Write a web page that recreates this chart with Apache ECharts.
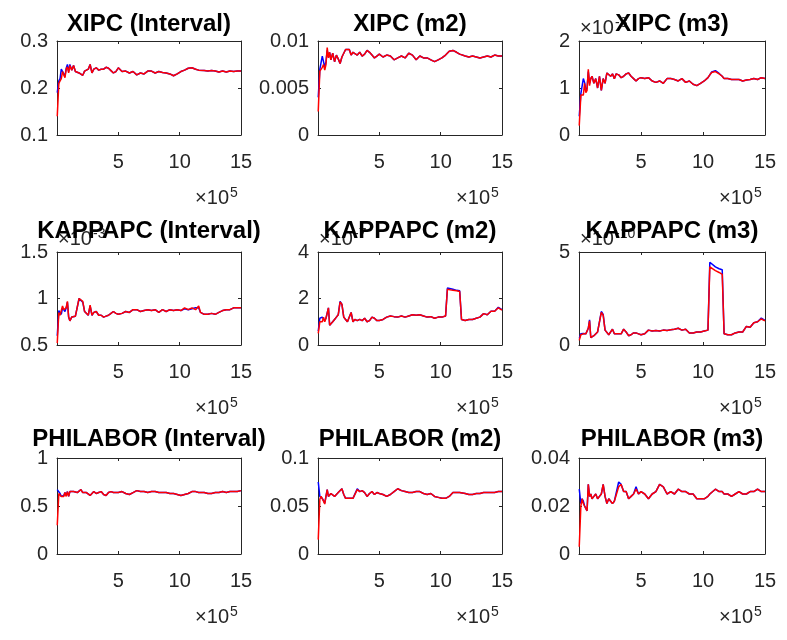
<!DOCTYPE html>
<html><head><meta charset="utf-8">
<script src="https://cdn.jsdelivr.net/npm/echarts@6/dist/echarts.min.js"></script>
<style>html,body{margin:0;padding:0;background:#fff}#c{width:787px;height:640px}</style>
</head><body><div id="c"></div>
<script>
// x positions (in units of 1e5)
const xs = [0.02,0.15,0.25,0.35,0.45,0.55,0.65,0.75,0.85,0.95,1.05,1.2,1.35,1.5,1.65,1.8,1.95,2.1,2.25,2.4,2.55,2.7,2.85,3.0,3.2,3.4,3.6,3.8,4.0,4.2,4.4,4.6,4.8,5.0,5.3,5.6,5.9,6.2,6.5,6.8,7.1,7.4,7.7,8.0,8.3,8.6,8.9,9.2,9.5,9.8,10.1,10.4,10.55,10.7,11.0,11.3,11.55,11.7,12.0,12.3,12.6,12.9,13.2,13.5,13.8,14.1,14.4,14.7,15.0];

const titles = ['XIPC (Interval)','XIPC (m2)','XIPC (m3)','KAPPAPC (Interval)','KAPPAPC (m2)','KAPPAPC (m3)','PHILABOR (Interval)','PHILABOR (m2)','PHILABOR (m3)'];
const yMin = [0.1,0,0,0.5,0,0,0,0,0];
const yMax = [0.3,0.01,2,1.5,4,5,1,0.1,0.04];
const yStep = [0.1,0.005,1,0.5,2,5,0.5,0.05,0.02];
const yTickLabels = [['0.1','0.2','0.3'],['0','0.005','0.01'],['0','1','2'],['0.5','1','1.5'],['0','2','4'],['0','5'],['0','0.5','1'],['0','0.05','0.1'],['0','0.02','0.04']];
const xTickLabels = ['','5','10','15'];
const xExpBase = '\u00d710', xExpPow = '5';
const yExpPow = [null,null,'-3','-3','-7','-10',null,null,null];

const xipcIntRed = [0.14,0.21,0.215,0.22,0.235,0.228,0.222,0.24,0.245,0.232, 0.248,0.238,0.248,0.235,0.237,0.232,0.235,0.227,0.236,0.232, 0.24,0.25,0.232,0.24,0.243,0.238,0.24,0.24,0.244,0.242, 0.237,0.232,0.235,0.243,0.235,0.236,0.232,0.235,0.228,0.232, 0.23,0.236,0.236,0.232,0.235,0.233,0.232,0.23,0.226,0.23, 0.235,0.238,0.24,0.242,0.243,0.24,0.238,0.238,0.237,0.236, 0.237,0.236,0.234,0.236,0.234,0.236,0.235,0.236,0.236];
const xipcIntBlue = [0.19,0.215,0.22,0.24,0.238,0.23,0.225,0.242,0.25,0.235, 0.25,0.238,0.248,0.235,0.237,0.232,0.235,0.227,0.236,0.232, 0.24,0.25,0.232,0.24,0.243,0.238,0.24,0.24,0.244,0.242, 0.237,0.232,0.235,0.243,0.235,0.236,0.232,0.235,0.228,0.232, 0.23,0.236,0.236,0.232,0.235,0.233,0.232,0.23,0.226,0.23, 0.235,0.238,0.24,0.242,0.243,0.24,0.238,0.238,0.237,0.236, 0.237,0.236,0.234,0.236,0.234,0.236,0.235,0.236,0.236];

const xipcM2Red = [0.0025,0.0068,0.007,0.0072,0.0075,0.0069,0.0075,0.0093,0.0082,0.0088, 0.008,0.0087,0.0078,0.0085,0.0081,0.0076,0.0083,0.0081,0.0091,0.009, 0.0091,0.0085,0.0088,0.0087,0.0085,0.0088,0.0084,0.0086,0.009,0.0088, 0.0085,0.0082,0.0084,0.0086,0.0083,0.0085,0.0084,0.008,0.0082,0.0084, 0.0082,0.0087,0.0085,0.008,0.0084,0.0082,0.0082,0.008,0.0078,0.008, 0.0082,0.0085,0.0087,0.0089,0.009,0.0088,0.0086,0.0085,0.0084,0.0083, 0.0084,0.0083,0.0082,0.0083,0.0084,0.0083,0.0085,0.0084,0.0084];
const xipcM2Blue = [0.004,0.007,0.0071,0.0084,0.0078,0.0072,0.0078,0.009,0.0083,0.0088, 0.008,0.0087,0.0078,0.0085,0.0081,0.0076,0.0083,0.0081,0.0091,0.009, 0.0091,0.0085,0.0088,0.0087,0.0085,0.0088,0.0084,0.0086,0.009,0.0088, 0.0085,0.0082,0.0084,0.0086,0.0083,0.0085,0.0084,0.008,0.0082,0.0084, 0.0082,0.0087,0.0085,0.008,0.0084,0.0082,0.0082,0.008,0.0078,0.008, 0.0082,0.0085,0.0087,0.0089,0.009,0.0088,0.0086,0.0085,0.0084,0.0083, 0.0084,0.0083,0.0082,0.0083,0.0084,0.0083,0.0085,0.0084,0.0084];

const xipcM3Red = [0.2,0.85,0.85,0.85,1.1,0.9,0.95,1.4,1.05,1.2, 1.25,1.1,1.2,1.0,1.25,0.95,1.2,1.1,1.32,1.3, 1.25,1.3,1.2,1.3,1.28,1.22,1.25,1.3,1.32,1.25, 1.2,1.15,1.2,1.22,1.2,1.22,1.15,1.12,1.15,1.1, 1.2,1.2,1.18,1.15,1.2,1.12,1.15,1.08,1.05,1.1, 1.15,1.22,1.28,1.33,1.35,1.3,1.25,1.2,1.2,1.18, 1.18,1.18,1.15,1.17,1.18,1.2,1.18,1.22,1.2];
const xipcM3Blue = [0.4,0.88,0.9,1.2,1.12,0.95,1.0,1.35,1.1,1.2, 1.25,1.1,1.2,1.0,1.25,0.95,1.2,1.1,1.32,1.3, 1.25,1.3,1.2,1.3,1.28,1.22,1.25,1.3,1.32,1.25, 1.2,1.15,1.2,1.22,1.2,1.22,1.15,1.12,1.15,1.1, 1.2,1.2,1.18,1.15,1.2,1.12,1.15,1.08,1.05,1.1, 1.15,1.22,1.28,1.34,1.37,1.31,1.25,1.2,1.2,1.18, 1.18,1.18,1.15,1.17,1.18,1.2,1.18,1.22,1.2];

const kapIntRed = [0.52,0.85,0.82,0.8,0.92,0.88,0.86,0.9,0.97,0.8, 0.76,0.8,0.8,0.81,0.8,1.0,0.99,0.97,0.86,0.84, 0.82,0.93,0.82,0.85,0.86,0.82,0.82,0.8,0.81,0.82, 0.84,0.86,0.84,0.83,0.84,0.86,0.85,0.88,0.88,0.86, 0.87,0.88,0.87,0.88,0.85,0.88,0.86,0.88,0.87,0.88, 0.87,0.9,0.89,0.88,0.9,0.88,0.92,0.85,0.83,0.83, 0.84,0.83,0.85,0.87,0.88,0.88,0.9,0.9,0.9];
const kapIntBlue = [0.6,0.87,0.86,0.83,0.9,0.88,0.86,0.9,0.96,0.8, 0.76,0.8,0.8,0.81,0.8,1.0,0.99,0.96,0.86,0.84, 0.82,0.92,0.82,0.85,0.86,0.82,0.82,0.8,0.81,0.82, 0.84,0.86,0.84,0.83,0.84,0.86,0.85,0.88,0.88,0.86, 0.87,0.88,0.87,0.88,0.85,0.88,0.86,0.88,0.87,0.88, 0.87,0.89,0.88,0.88,0.89,0.9,0.9,0.85,0.83,0.83, 0.84,0.83,0.85,0.87,0.88,0.88,0.9,0.9,0.9];

const kapM2Red = [0.5,1.0,1.05,1.0,1.2,1.0,1.15,1.1,1.6,0.85, 0.9,1.0,1.1,1.2,1.3,1.85,1.75,1.2,1.1,1.0, 1.0,1.4,1.0,1.1,1.05,1.1,1.05,1.15,1.0,1.05, 1.2,1.15,1.05,1.05,1.1,1.2,1.25,1.22,1.2,1.25, 1.2,1.25,1.3,1.28,1.3,1.25,1.2,1.22,1.15,1.2, 1.2,1.25,2.4,2.45,2.35,2.33,2.3,1.1,1.05,1.1, 1.1,1.15,1.2,1.35,1.3,1.45,1.45,1.6,1.5];
const kapM2Blue = [0.6,1.15,1.1,1.2,1.15,1.05,1.15,1.1,1.6,0.85, 0.9,1.0,1.1,1.2,1.3,1.88,1.75,1.2,1.1,1.0, 1.0,1.4,1.0,1.1,1.05,1.1,1.05,1.15,1.0,1.05, 1.2,1.15,1.05,1.05,1.1,1.2,1.25,1.22,1.2,1.25, 1.2,1.25,1.3,1.28,1.3,1.25,1.2,1.22,1.15,1.2, 1.2,1.25,2.45,2.45,2.4,2.35,2.33,1.1,1.05,1.1, 1.1,1.15,1.2,1.35,1.3,1.45,1.45,1.62,1.52];

const kapM3Red = [0.25,0.55,0.5,0.6,0.55,0.6,0.6,0.9,1.3,0.4, 0.45,0.5,0.6,0.7,0.8,1.75,1.6,0.8,0.7,0.55, 0.6,0.85,0.6,0.55,0.6,0.6,0.85,0.7,0.5,0.55, 0.65,0.65,0.6,0.55,0.6,0.8,0.75,0.78,0.75,0.8, 0.78,0.82,0.85,0.9,0.8,0.85,0.65,0.65,0.7,0.7, 0.75,0.8,4.2,4.1,4.0,3.9,3.8,0.6,0.55,0.55, 0.65,0.7,0.7,1.0,0.95,1.2,1.25,1.4,1.3];
const kapM3Blue = [0.35,0.6,0.52,0.62,0.55,0.6,0.6,0.9,1.35,0.4, 0.45,0.5,0.6,0.7,0.8,1.8,1.65,0.8,0.7,0.55, 0.6,0.85,0.6,0.55,0.6,0.6,0.85,0.7,0.5,0.55, 0.65,0.65,0.6,0.55,0.6,0.8,0.75,0.78,0.75,0.8, 0.78,0.82,0.85,0.9,0.8,0.85,0.65,0.65,0.7,0.7, 0.75,0.8,4.45,4.35,4.2,4.1,4.05,0.6,0.55,0.55, 0.65,0.7,0.7,1.0,0.95,1.2,1.25,1.45,1.32];

const philIntRed = [0.3,0.63,0.62,0.6,0.58,0.6,0.64,0.6,0.65,0.6, 0.65,0.63,0.65,0.65,0.64,0.66,0.67,0.64,0.62,0.64, 0.63,0.61,0.63,0.65,0.63,0.64,0.65,0.62,0.61,0.64, 0.65,0.64,0.64,0.64,0.65,0.63,0.62,0.64,0.66,0.65, 0.65,0.64,0.65,0.65,0.64,0.64,0.64,0.63,0.63,0.62, 0.61,0.62,0.63,0.63,0.65,0.65,0.64,0.64,0.64,0.63, 0.63,0.64,0.64,0.65,0.64,0.65,0.65,0.65,0.66];
const philIntBlue = [0.67,0.66,0.63,0.6,0.59,0.61,0.64,0.61,0.65,0.6, 0.65,0.63,0.65,0.65,0.64,0.66,0.67,0.64,0.62,0.64, 0.63,0.61,0.63,0.65,0.63,0.64,0.65,0.62,0.61,0.64, 0.65,0.64,0.64,0.64,0.65,0.63,0.62,0.64,0.66,0.65, 0.65,0.64,0.65,0.65,0.64,0.64,0.64,0.63,0.63,0.62, 0.61,0.62,0.63,0.63,0.65,0.65,0.64,0.64,0.64,0.63, 0.63,0.64,0.64,0.65,0.64,0.65,0.65,0.65,0.66];

const philM2Red = [0.015,0.057,0.06,0.058,0.055,0.052,0.06,0.067,0.06,0.062, 0.063,0.061,0.06,0.062,0.064,0.066,0.068,0.062,0.058,0.06, 0.058,0.059,0.058,0.06,0.067,0.065,0.066,0.064,0.06,0.063, 0.065,0.062,0.064,0.063,0.062,0.06,0.062,0.065,0.068,0.066, 0.065,0.064,0.064,0.065,0.065,0.063,0.062,0.063,0.06,0.059, 0.058,0.058,0.06,0.06,0.064,0.064,0.064,0.063,0.063,0.062, 0.062,0.063,0.063,0.064,0.064,0.064,0.064,0.065,0.065];
const philM2Blue = [0.075,0.06,0.059,0.058,0.056,0.053,0.06,0.067,0.06,0.062, 0.063,0.061,0.06,0.062,0.064,0.066,0.068,0.062,0.058,0.06, 0.058,0.059,0.058,0.06,0.068,0.065,0.066,0.064,0.06,0.063, 0.065,0.062,0.064,0.063,0.062,0.06,0.062,0.065,0.068,0.066, 0.065,0.064,0.064,0.065,0.065,0.063,0.062,0.063,0.06,0.059, 0.058,0.058,0.06,0.06,0.064,0.064,0.064,0.063,0.063,0.062, 0.062,0.063,0.063,0.064,0.064,0.064,0.064,0.065,0.065];

const philM3Red = [0.003,0.02,0.023,0.021,0.02,0.019,0.018,0.029,0.024,0.025, 0.023,0.024,0.025,0.023,0.024,0.025,0.029,0.024,0.021,0.023, 0.022,0.021,0.022,0.022,0.028,0.029,0.026,0.026,0.023,0.024, 0.025,0.027,0.025,0.026,0.025,0.023,0.025,0.026,0.029,0.028, 0.025,0.026,0.025,0.027,0.026,0.026,0.025,0.025,0.023,0.023, 0.023,0.024,0.025,0.025,0.027,0.026,0.026,0.025,0.025,0.024, 0.025,0.026,0.025,0.025,0.026,0.026,0.027,0.026,0.026];
const philM3Blue = [0.027,0.021,0.023,0.022,0.02,0.019,0.018,0.029,0.024,0.025, 0.023,0.024,0.025,0.023,0.024,0.025,0.029,0.024,0.021,0.023, 0.022,0.021,0.022,0.022,0.03,0.029,0.026,0.026,0.023,0.024, 0.025,0.028,0.025,0.026,0.025,0.023,0.025,0.026,0.029,0.028, 0.025,0.026,0.025,0.027,0.026,0.026,0.025,0.025,0.023,0.023, 0.023,0.024,0.025,0.025,0.027,0.026,0.026,0.025,0.025,0.024, 0.025,0.026,0.025,0.025,0.026,0.026,0.027,0.026,0.026];

const blueSeries = [xipcIntBlue,xipcM2Blue,xipcM3Blue,kapIntBlue,kapM2Blue,kapM3Blue,philIntBlue,philM2Blue,philM3Blue];
const redSeries = [xipcIntRed,xipcM2Red,xipcM3Red,kapIntRed,kapM2Red,kapM3Red,philIntRed,philM2Red,philM3Red];

// layout
const colLeft = [57,318,579], colW = [184,184,186];
const rowTop = [41,252,458], rowH = [94,93,96];
const FONT = '"Liberation Sans", Arial, Helvetica, sans-serif';
const AX = '#262626';

const grid = [], xAxis = [], yAxis = [], series = [], graphic = [];
for (let i = 0; i < 9; i++) {
  const r = Math.floor(i/3), c = i%3;
  const L = colLeft[c], T = rowTop[r], W = colW[c], H = rowH[r];
  grid.push({left: L, top: T, width: W, height: H, containLabel: false});
  const line = {show: true, onZero: false, lineStyle: {color: AX, width: 1}};
  const tick = {show: true, inside: true, length: 3, lineStyle: {color: AX, width: 1}};
  xAxis.push({gridIndex: i, type: 'value', position: 'bottom', min: 0, max: 15, interval: 5,
    axisLine: line, axisTick: tick, splitLine: {show: false},
    axisLabel: {show: true, margin: 17, fontSize: 20, color: AX, fontFamily: FONT,
      formatter: (v, idx) => xTickLabels[idx] || ''}});
  xAxis.push({gridIndex: i, type: 'value', position: 'top', min: 0, max: 15, interval: 5,
    axisLine: line, axisTick: tick, splitLine: {show: false}, axisLabel: {show: false}});
  const labs = yTickLabels[i];
  yAxis.push({gridIndex: i, type: 'value', position: 'left', min: yMin[i], max: yMax[i], interval: yStep[i],
    axisLine: line, axisTick: tick, splitLine: {show: false},
    axisLabel: {show: true, margin: 9, fontSize: 20, color: AX, fontFamily: FONT,
      formatter: (v, idx) => labs[idx] || ''}});
  yAxis.push({gridIndex: i, type: 'value', position: 'right', min: yMin[i], max: yMax[i], interval: yStep[i],
    axisLine: line, axisTick: tick, splitLine: {show: false}, axisLabel: {show: false}});
  const mk = (arr, color, z) => ({type: 'line', xAxisIndex: 2*i, yAxisIndex: 2*i, showSymbol: false, symbol: 'none',
    data: arr.map((y, k) => [xs[k], y]), lineStyle: {color: color, width: 1.5}, z: z, silent: true});
  series.push(mk(blueSeries[i], '#0000ff', 2));
  series.push(mk(redSeries[i], '#ff0000', 3));

  // x exponent label
  const bx = L + W - 12, by = T + H + 73;
  graphic.push({type: 'text', x: bx, y: by, z: 10,
    style: {text: xExpBase, font: '20px ' + FONT, fill: AX, align: 'right', verticalAlign: 'bottom'}});
  graphic.push({type: 'text', x: bx + 1, y: by - 8, z: 10,
    style: {text: xExpPow, font: '14px ' + FONT, fill: AX, align: 'left', verticalAlign: 'bottom'}});
  if (yExpPow[i]) {
    graphic.push({type: 'text', x: L + 1, y: T - 3, z: 10,
      style: {text: xExpBase, font: '20px ' + FONT, fill: AX, align: 'left', verticalAlign: 'bottom'}});
    graphic.push({type: 'text', x: L + 36, y: T - 11, z: 10,
      style: {text: yExpPow[i], font: '14px ' + FONT, fill: AX, align: 'left', verticalAlign: 'bottom'}});
  }
}
// titles drawn last (on top)
for (let i = 0; i < 9; i++) {
  const r = Math.floor(i/3), c = i%3;
  const cx = colLeft[c] + colW[c]/2;
  const capMid = [23, 230, 438][r];
  graphic.push({type: 'text', x: cx, y: capMid + 1, z: 20,
    style: {text: titles[i], font: 'bold 24px ' + FONT, fill: '#000', align: 'center', verticalAlign: 'middle'}});
}

const chart = echarts.init(document.getElementById('c'), null, {renderer: 'canvas'});
chart.setOption({animation: false, backgroundColor: '#fff', grid, xAxis, yAxis, series, graphic});
</script></body></html>
